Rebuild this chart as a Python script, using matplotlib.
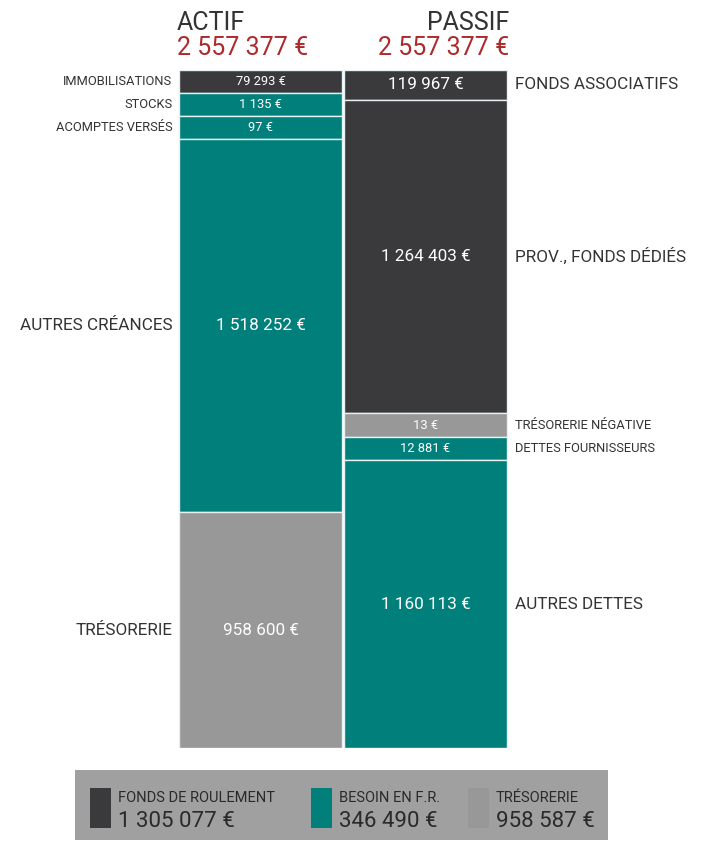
import matplotlib
import matplotlib.pyplot as plt
from matplotlib.patches import Rectangle
import numpy as np

matplotlib.use('Agg')
plt.rcParams['font.family'] = ['Roboto', 'DejaVu Sans']

# Bilan: actif / passif
actif_labels = ["IMMOBILISATIONS", "STOCKS", "ACOMPTES VERSÉS", "AUTRES CRÉANCES", "TRÉSORERIE"]
actif_values = [79293, 1135, 97, 1518252, 958600]
actif_kinds = ["fr", "bfr", "bfr", "bfr", "treso"]

passif_labels = ["FONDS ASSOCIATIFS", "PROV., FONDS DÉDIÉS", "TRÉSORERIE NÉGATIVE",
                 "DETTES FOURNISSEURS", "AUTRES DETTES"]
passif_values = [119967, 1264403, 13, 12881, 1160113]
passif_kinds = ["fr", "fr", "treso", "bfr", "bfr"]

colors = {"fr": "#3a3a3c", "bfr": "#017f7b", "treso": "#989898"}
red = "#ad2a2c"
dark = "#333333"
min_value = 94000  # smallest block drawn, in euros


def euro(v):
    return f"{v:,}".replace(",", " ") + " €"


fig = plt.figure(figsize=(7.08, 8.42), dpi=100)
W, H = 708, 842
ax = fig.add_axes([178 / W, (H - 748) / H, (508 - 178) / W, (748 - 70) / H])
ax.set_xlim(-0.5, 1.5)
ax.set_ylim(0, 1)
ax.axis('off')


def draw_column(xpos, labels, values, kinds, side):
    shown = np.maximum(np.array(values, dtype=float), min_value)
    shown = shown / shown.sum()
    top = 1.0
    for lab, v, k, h in zip(labels, values, kinds, shown):
        bottom = top - h
        ax.bar(xpos, h, width=0.99, bottom=bottom, color=colors[k],
               edgecolor="#e6f2f2", linewidth=1)
        mid = bottom + h / 2
        small = v < min_value
        fs = 9.3 if small else 12.3
        ax.text(xpos, mid, euro(v), color="white", fontsize=fs,
                ha="center", va="center")
        if side == "left":
            ax.text(xpos - 0.535, mid, lab, color=dark, fontsize=fs,
                    ha="right", va="center")
        else:
            ax.text(xpos + 0.545, mid, lab, color=dark, fontsize=fs,
                    ha="left", va="center")
        top = bottom


draw_column(0, actif_labels, actif_values, actif_kinds, "left")
draw_column(1, passif_labels, passif_values, passif_kinds, "right")

# Headers
total_actif = sum(actif_values)
total_passif = sum(passif_values)
fig.text(177 / W, 1 - 30 / H, "ACTIF", fontsize=18, color="#333333", ha="left", va="baseline")
fig.text(177 / W, 1 - 55 / H, euro(total_actif), fontsize=18, color=red, ha="left", va="baseline")
fig.text(509 / W, 1 - 30 / H, "PASSIF", fontsize=18, color="#333333", ha="right", va="baseline")
fig.text(509 / W, 1 - 55 / H, euro(total_passif), fontsize=18, color=red, ha="right", va="baseline")

# Legend: fonds de roulement, besoin en fonds de roulement, trésorerie
fr = passif_values[0] + passif_values[1] - actif_values[0]
bfr = sum(actif_values[1:4]) - sum(passif_values[3:5])
treso = actif_values[4] - passif_values[2]
legend_items = [("FONDS DE ROULEMENT", fr, "fr", 90),
                ("BESOIN EN F.R.", bfr, "bfr", 311),
                ("TRÉSORERIE", treso, "treso", 468)]

fig.patches.append(Rectangle((75 / W, 1 - 840 / H), 533 / W, 70 / H,
                             transform=fig.transFigure, facecolor="#a0a0a0",
                             edgecolor="none"))
for lab, v, k, x0 in legend_items:
    fig.patches.append(Rectangle((x0 / W, 1 - 828 / H), 21 / W, 40 / H,
                                 transform=fig.transFigure, facecolor=colors[k],
                                 edgecolor="none"))
    fig.text((x0 + 28) / W, 1 - 802 / H, lab, fontsize=10.5, color="#2a2a2a",
             ha="left", va="baseline")
    fig.text((x0 + 28) / W, 1 - 827 / H, euro(v), fontsize=16, color="#2a2a2a",
             ha="left", va="baseline")

plt.savefig("out.png", dpi=100)
plt.close()
